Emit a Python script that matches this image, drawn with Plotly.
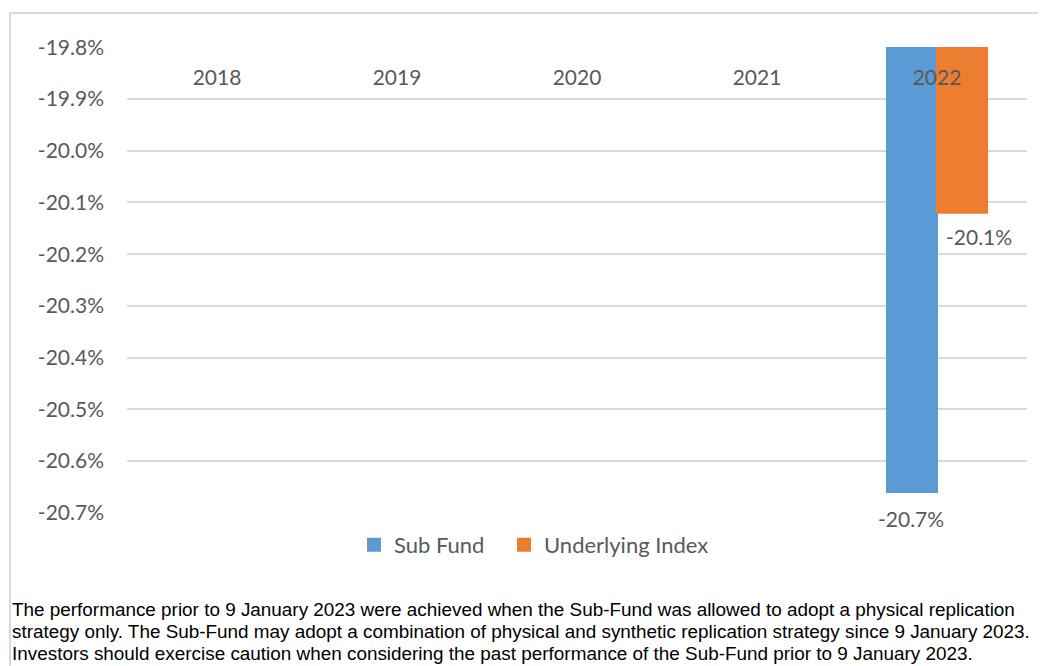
import plotly.graph_objects as go

years = ["2018", "2019", "2020", "2021", "2022"]
sub_fund = [None, None, None, None, -20.66]
underlying_index = [None, None, None, None, -20.12]
sub_fund_labels = ["-20.7%"]
index_labels = ["-20.1%"]
label_years = ["2022"]
y_tick_values = [-19.8, -19.9, -20.0, -20.1, -20.2, -20.3, -20.4, -20.5, -20.6, -20.7]
y_tick_labels = ["-19.8%", "-19.9%", "-20.0%", "-20.1%", "-20.2%", "-20.3%",
                 "-20.4%", "-20.5%", "-20.6%", "-20.7%"]
footnote_lines = [
    "The performance prior to 9 January 2023 were achieved when the Sub-Fund was allowed to adopt a physical replication",
    "strategy only. The Sub-Fund may adopt a combination of physical and synthetic replication strategy since 9 January 2023.",
    "Investors should exercise caution when considering the past performance of the Sub-Fund prior to 9 January 2023.",
]

FONT = "Lato"
GREY = "#595959"
BLUE = "#5b9bd5"
ORANGE = "#ed7d31"

# pixel geometry of the plot area (page has an 8px body margin)
PL, PT, PW, PH = 127, 47, 900, 466


def px_x(p):
    return (p - PL) / PW


def px_y(p):
    return 1 - (p - PT) / PH


fig = go.Figure()
fig.add_trace(go.Bar(x=years, y=sub_fund, name="Sub Fund", marker_color=BLUE,
                     marker_line=dict(color=BLUE, width=2), legend="legend"))
fig.add_trace(go.Bar(x=years, y=underlying_index, name="Underlying Index",
                     marker_color=ORANGE, marker_line=dict(color=ORANGE, width=2),
                     legend="legend2"))

annotations = []
for yr, lab in zip(label_years, sub_fund_labels):
    i = years.index(yr)
    annotations.append(dict(x=i, y=sub_fund[i], xref="x", yref="y", text=lab, showarrow=False,
                            xshift=-26, yshift=-27, yanchor="middle",
                            font=dict(family=FONT, size=21, color=GREY)))
for yr, lab in zip(label_years, index_labels):
    i = years.index(yr)
    annotations.append(dict(x=i, y=underlying_index[i], xref="x", yref="y", text=lab,
                            showarrow=False, xshift=42, yshift=-24, yanchor="middle",
                            font=dict(family=FONT, size=21, color=GREY)))
for k, line in enumerate(footnote_lines):
    annotations.append(dict(text=line, xref="paper", yref="paper",
                            x=px_x(10), y=px_y(609 + 22 * k), xanchor="left", yanchor="middle",
                            align="left", showarrow=False,
                            font=dict(family="Liberation Sans, Arial", size=18.9, color="black")))

legend_style = dict(orientation="h", xanchor="left", yanchor="middle", y=px_y(545),
                    font=dict(family=FONT, size=22, color=GREY), bgcolor="rgba(0,0,0,0)")

fig.update_layout(
    width=1038, height=658, autosize=False,
    margin=dict(l=PL - 8, r=1046 - (PL + PW), t=PT - 8, b=666 - (PT + PH)),
    paper_bgcolor="white", plot_bgcolor="white",
    barmode="group", bargap=0.444, bargroupgap=0,
    font=dict(family=FONT, size=21, color=GREY),
    showlegend=True,
    legend=dict(x=px_x(354), **legend_style),
    legend2=dict(x=px_x(504), **legend_style),
    xaxis=dict(side="bottom", anchor="free", position=1, type="category",
               showgrid=False, showline=False, zeroline=False,
               ticks="", ticklabelposition="outside", ticklabelstandoff=16,
               tickfont=dict(family=FONT, size=21, color=GREY)),
    yaxis=dict(range=[-20.7008, -19.7992], tickvals=y_tick_values, ticktext=y_tick_labels,
               showgrid=True, gridcolor="#d9d9d9", gridwidth=2, zeroline=False, showline=False,
               ticks="", ticklabelstandoff=22, tickfont=dict(family=FONT, size=21, color=GREY)),
    shapes=[dict(type="rect", xref="paper", yref="paper",
                 x0=px_x(10), x1=px_x(1060), y0=px_y(680), y1=px_y(13),
                 line=dict(color="#d9d9d9", width=2), fillcolor="rgba(0,0,0,0)", layer="below")],
    annotations=annotations,
)

fig.write_html("out.html")
